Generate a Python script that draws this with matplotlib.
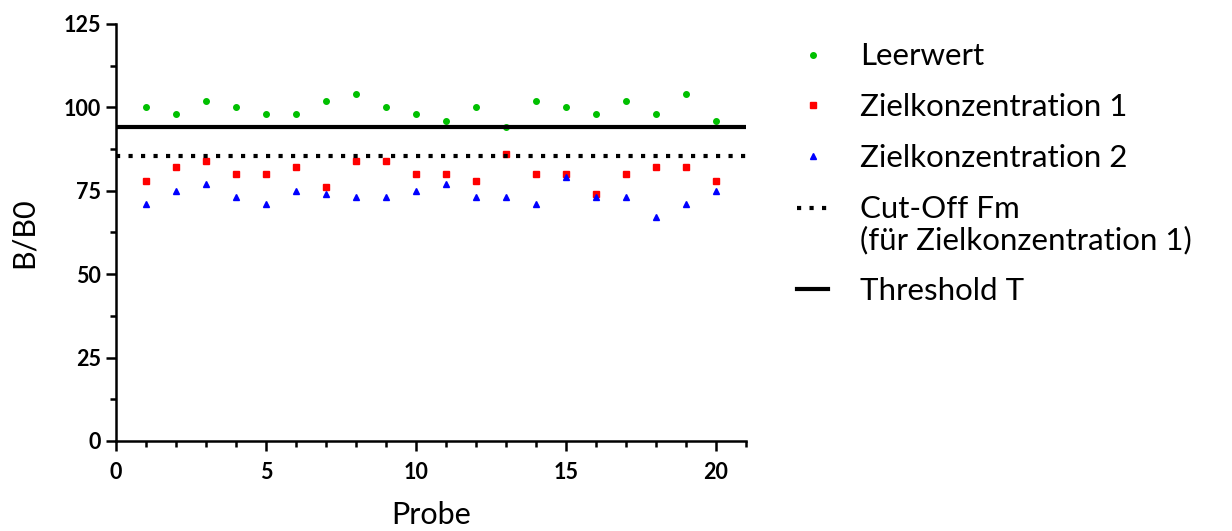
import numpy as np
import matplotlib
matplotlib.use('Agg')
import matplotlib.pyplot as plt
from matplotlib.legend_handler import HandlerLine2D

plt.rcParams['font.family'] = ['Lato', 'DejaVu Sans']

# data
probe = np.arange(1, 21)
leerwert = [100, 98, 102, 100, 98, 98, 102, 104, 100, 98,
            96, 100, 94, 102, 100, 98, 102, 98, 104, 96]
ziel1 = [78, 82, 84, 80, 80, 82, 76, 84, 84, 80,
         80, 78, 86, 80, 80, 74, 80, 82, 82, 78]
ziel2 = [71, 75, 77, 73, 71, 75, 74, 73, 73, 75,
         77, 73, 73, 71, 79, 73, 73, 67, 71, 75]
cutoff = 85.5
threshold = 94


class HandlerFirstLine(HandlerLine2D):
    # put the handle next to the first line of a two-line label
    def create_artists(self, legend, orig_handle, xdescent, ydescent,
                       width, height, fontsize, trans):
        arts = super().create_artists(legend, orig_handle, xdescent, ydescent,
                                      width, height, fontsize, trans)
        for a in arts:
            y = a.get_ydata()
            a.set_ydata(np.asarray(y) + 0.55 * fontsize)
        return arts


fig = plt.figure(figsize=(12.32, 5.31), dpi=100)
ax = fig.add_axes([0.094, 0.1695, 0.5115, 0.7855])

ax.plot(probe, leerwert, 'o', color='#00c000', markersize=4, label='Leerwert')
ax.plot(probe, ziel1, 's', color='#ff0000', markersize=4.5, label='Zielkonzentration 1')
ax.plot(probe, ziel2, '^', color='#0000ff', markersize=4.5, label='Zielkonzentration 2')
cut = ax.axhline(cutoff, color='black', lw=3, linestyle=(0, (1, 2)),
                 label='Cut-Off Fm\n(für Zielkonzentration 1)')
ax.axhline(threshold, color='black', lw=3, label='Threshold T')

ax.set_xlim(0, 21)
ax.set_ylim(0, 125)
ax.set_xticks([0, 5, 10, 15, 20])
ax.set_xticks(np.arange(0, 22, 1), minor=True)
ax.set_yticks([0, 25, 50, 75, 100, 125])
ax.set_yticks(np.arange(0, 126, 12.5), minor=True)

for s in ['top', 'right']:
    ax.spines[s].set_visible(False)
for s in ['left', 'bottom']:
    ax.spines[s].set_linewidth(1.8)
ax.tick_params(which='major', length=7, width=1.8, labelsize=15.5)
ax.tick_params(which='minor', length=4, width=1.8)
ax.tick_params(axis='x', which='major', pad=8)
for lab in ax.get_xticklabels() + ax.get_yticklabels():
    lab.set_fontweight('bold')

ax.set_xlabel('Probe', fontsize=22, labelpad=13)
ax.set_ylabel('B/B0', fontsize=22, labelpad=19)

leg = ax.legend(loc='upper left', bbox_to_anchor=(797 / 1232, 0.92),
                bbox_transform=fig.transFigure, frameon=False, borderpad=0,
                borderaxespad=0, fontsize=22.5, handlelength=1.0,
                handletextpad=1.03, labelspacing=0.73,
                handler_map={cut: HandlerFirstLine()})
for t in leg.get_texts():
    t.set_linespacing(1.1)

fig.savefig('out.png', dpi=100)
